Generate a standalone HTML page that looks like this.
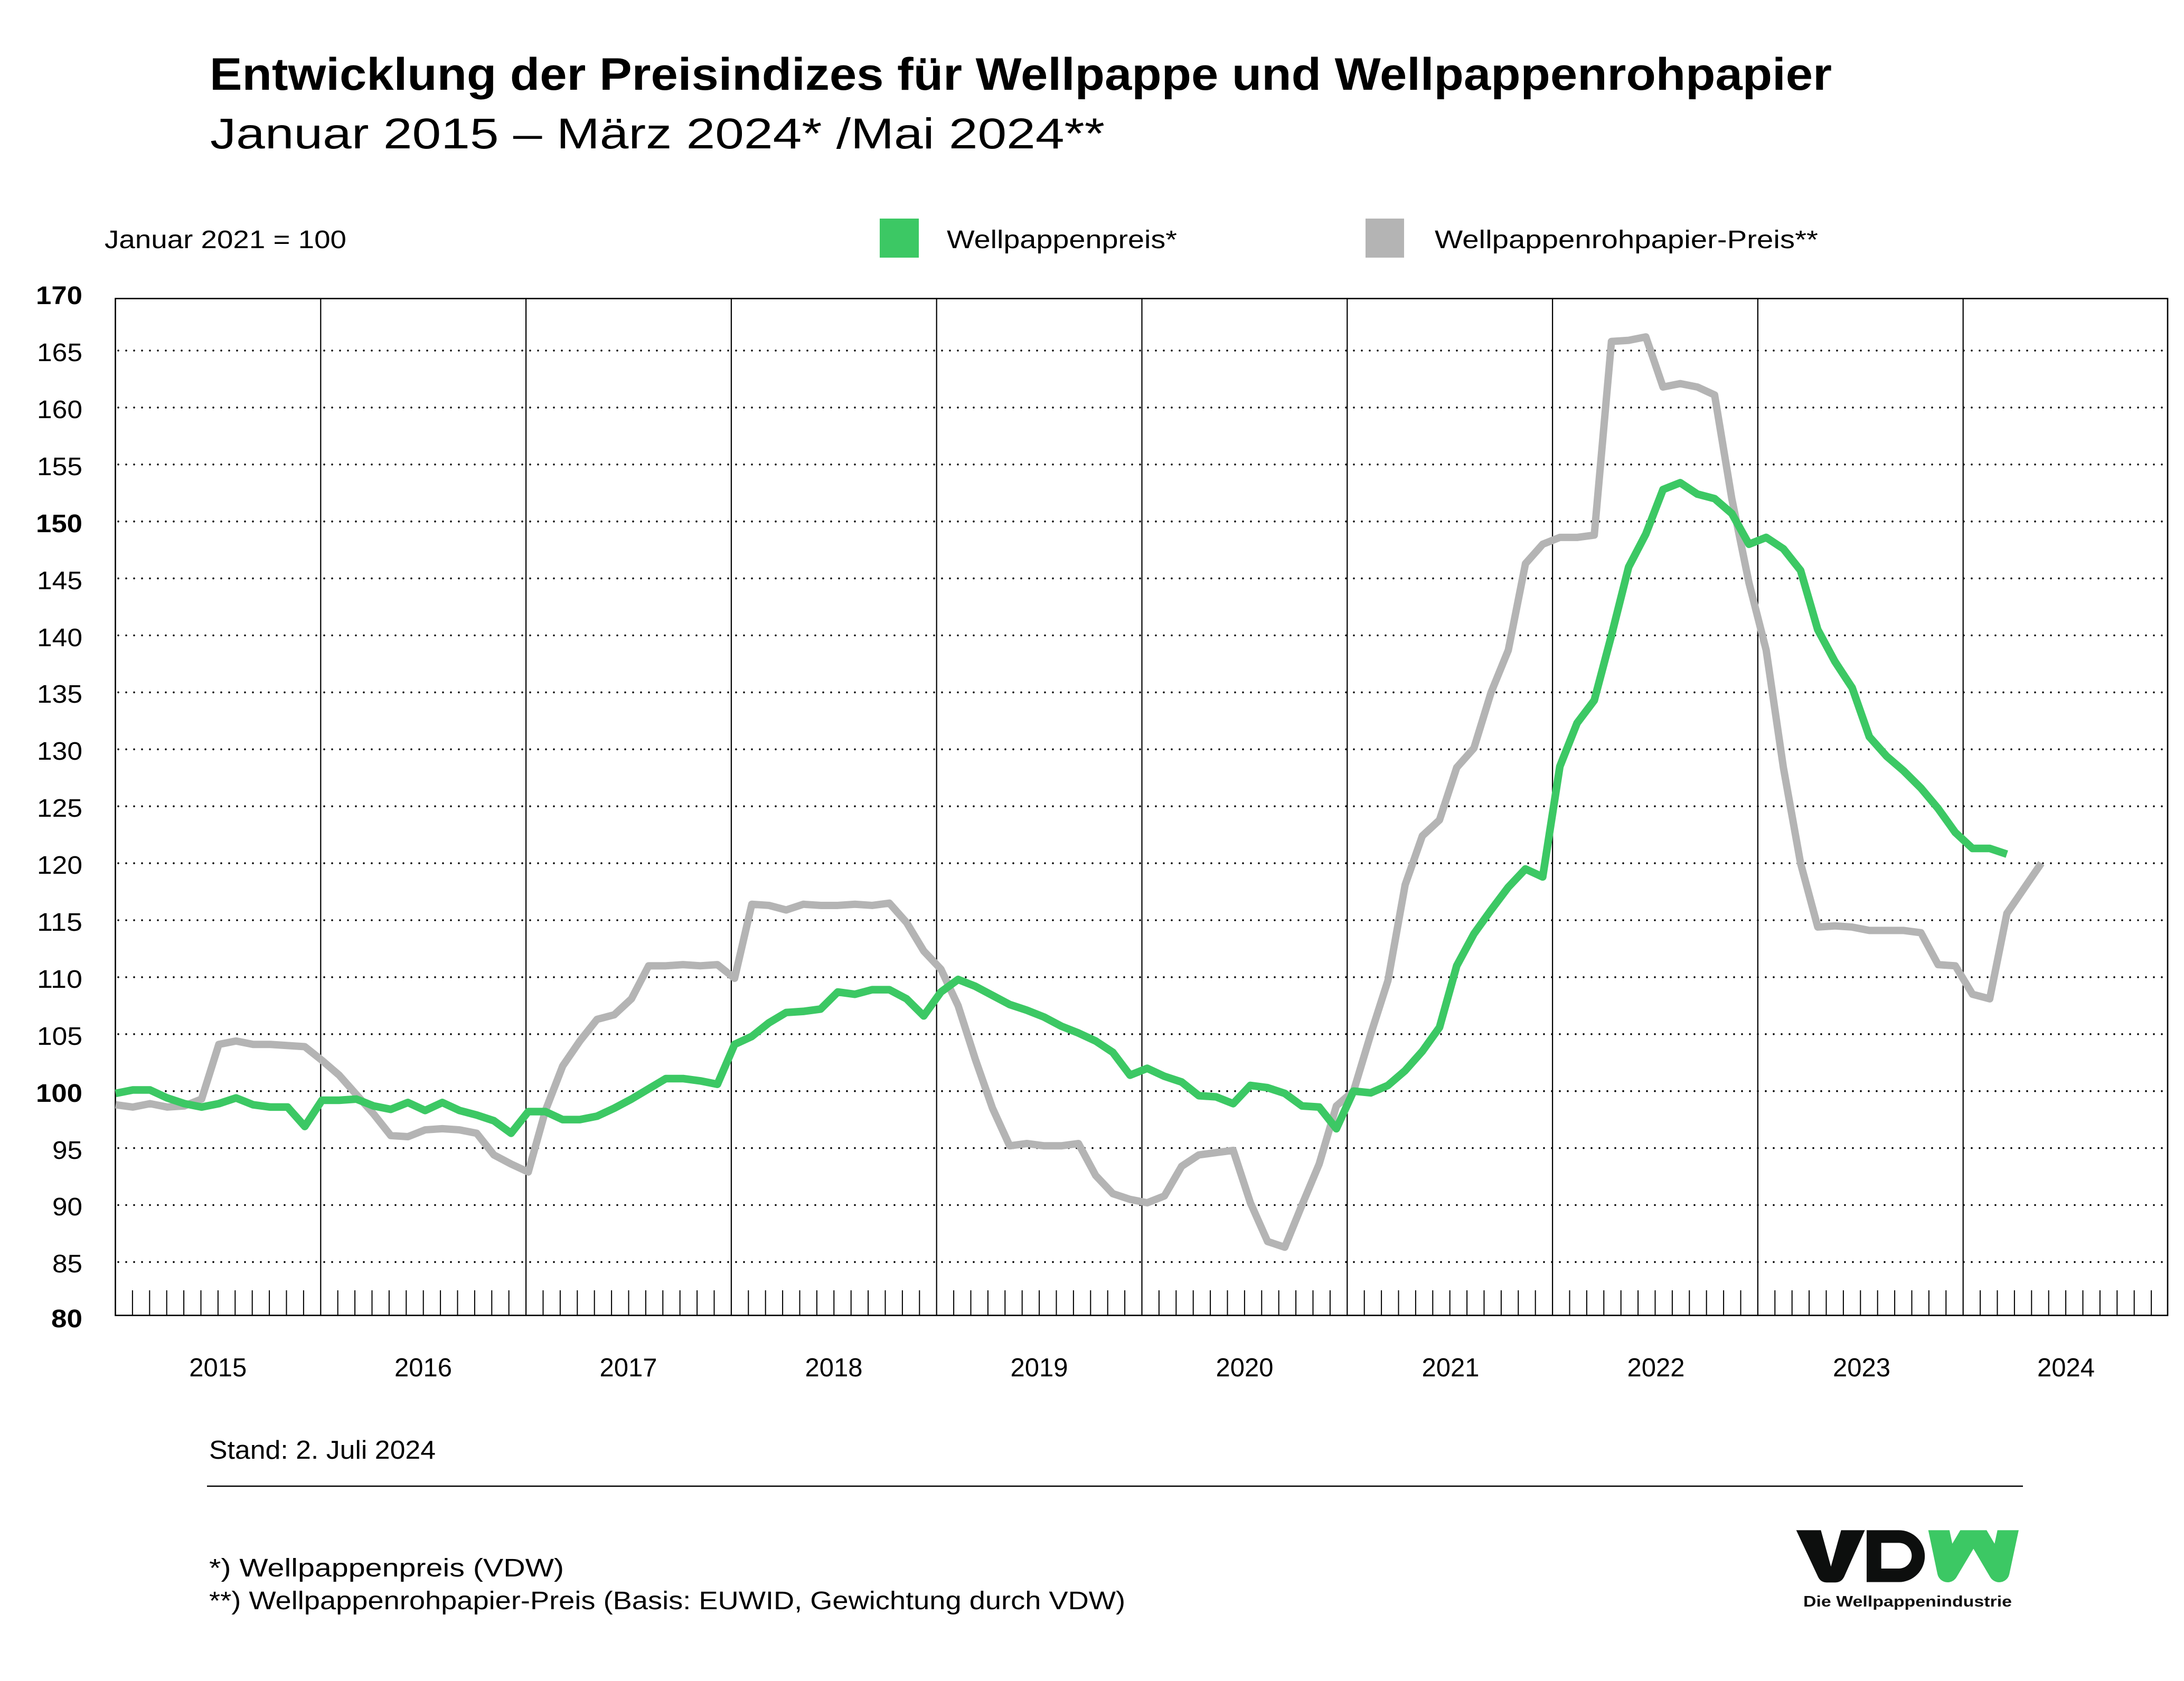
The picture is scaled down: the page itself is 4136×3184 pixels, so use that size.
<!DOCTYPE html>
<html>
<head>
<meta charset="utf-8">
<style>
html,body{margin:0;padding:0;background:#ffffff;}
svg{display:block;}
</style>
</head>
<body>
<svg xmlns="http://www.w3.org/2000/svg" width="4136" height="3184" viewBox="0 0 4136 3184" font-family="'Liberation Sans', Arial, sans-serif" fill="#000">
<rect x="0" y="0" width="4136" height="3184" fill="#ffffff"/>

<!-- Title -->
<text x="397" y="170" font-size="86" font-weight="bold" textLength="3072" lengthAdjust="spacingAndGlyphs">Entwicklung der Preisindizes für Wellpappe und Wellpappenrohpapier</text>
<text x="398" y="281" font-size="82" textLength="1694" lengthAdjust="spacingAndGlyphs">Januar 2015 – März 2024* /Mai 2024**</text>

<!-- Legend row -->
<text x="198" y="470" font-size="48" textLength="458" lengthAdjust="spacingAndGlyphs">Januar 2021 = 100</text>
<rect x="1666" y="414" width="74" height="74" fill="#3CC864"/>
<text x="1793" y="470" font-size="48" textLength="436" lengthAdjust="spacingAndGlyphs">Wellpappenpreis*</text>
<rect x="2586" y="414" width="73" height="74" fill="#B4B4B4"/>
<text x="2717" y="470" font-size="48" textLength="726" lengthAdjust="spacingAndGlyphs">Wellpappenrohpapier-Preis**</text>

<!-- Dotted horizontal gridlines -->
<g stroke="#000" stroke-width="3.6" stroke-linecap="round" stroke-dasharray="0 15" fill="none">
<line x1="224" x2="4102" y1="2390.4" y2="2390.4"/>
<line x1="224" x2="4102" y1="2282.5" y2="2282.5"/>
<line x1="224" x2="4102" y1="2174.6" y2="2174.6"/>
<line x1="224" x2="4102" y1="2066.7" y2="2066.7"/>
<line x1="224" x2="4102" y1="1958.8" y2="1958.8"/>
<line x1="224" x2="4102" y1="1850.9" y2="1850.9"/>
<line x1="224" x2="4102" y1="1743.0" y2="1743.0"/>
<line x1="224" x2="4102" y1="1635.1" y2="1635.1"/>
<line x1="224" x2="4102" y1="1527.2" y2="1527.2"/>
<line x1="224" x2="4102" y1="1419.3" y2="1419.3"/>
<line x1="224" x2="4102" y1="1311.4" y2="1311.4"/>
<line x1="224" x2="4102" y1="1203.5" y2="1203.5"/>
<line x1="224" x2="4102" y1="1095.6" y2="1095.6"/>
<line x1="224" x2="4102" y1="987.7" y2="987.7"/>
<line x1="224" x2="4102" y1="879.8" y2="879.8"/>
<line x1="224" x2="4102" y1="771.9" y2="771.9"/>
<line x1="224" x2="4102" y1="664.0" y2="664.0"/>
</g>

<!-- Year lines and monthly ticks (month units) -->
<g transform="translate(218.5,0) scale(32.4,1)" fill="none" stroke="#000">
<path vector-effect="non-scaling-stroke" stroke-width="2.2" d="M12 565.5V2491.5M24 565.5V2491.5M36 565.5V2491.5M48 565.5V2491.5M60 565.5V2491.5M72 565.5V2491.5M84 565.5V2491.5M96 565.5V2491.5M108 565.5V2491.5"/>
<path vector-effect="non-scaling-stroke" stroke-width="2" d="M1 2444V2491.5M2 2444V2491.5M3 2444V2491.5M4 2444V2491.5M5 2444V2491.5M6 2444V2491.5M7 2444V2491.5M8 2444V2491.5M9 2444V2491.5M10 2444V2491.5M11 2444V2491.5M13 2444V2491.5M14 2444V2491.5M15 2444V2491.5M16 2444V2491.5M17 2444V2491.5M18 2444V2491.5M19 2444V2491.5M20 2444V2491.5M21 2444V2491.5M22 2444V2491.5M23 2444V2491.5M25 2444V2491.5M26 2444V2491.5M27 2444V2491.5M28 2444V2491.5M29 2444V2491.5M30 2444V2491.5M31 2444V2491.5M32 2444V2491.5M33 2444V2491.5M34 2444V2491.5M35 2444V2491.5M37 2444V2491.5M38 2444V2491.5M39 2444V2491.5M40 2444V2491.5M41 2444V2491.5M42 2444V2491.5M43 2444V2491.5M44 2444V2491.5M45 2444V2491.5M46 2444V2491.5M47 2444V2491.5M49 2444V2491.5M50 2444V2491.5M51 2444V2491.5M52 2444V2491.5M53 2444V2491.5M54 2444V2491.5M55 2444V2491.5M56 2444V2491.5M57 2444V2491.5M58 2444V2491.5M59 2444V2491.5M61 2444V2491.5M62 2444V2491.5M63 2444V2491.5M64 2444V2491.5M65 2444V2491.5M66 2444V2491.5M67 2444V2491.5M68 2444V2491.5M69 2444V2491.5M70 2444V2491.5M71 2444V2491.5M73 2444V2491.5M74 2444V2491.5M75 2444V2491.5M76 2444V2491.5M77 2444V2491.5M78 2444V2491.5M79 2444V2491.5M80 2444V2491.5M81 2444V2491.5M82 2444V2491.5M83 2444V2491.5M85 2444V2491.5M86 2444V2491.5M87 2444V2491.5M88 2444V2491.5M89 2444V2491.5M90 2444V2491.5M91 2444V2491.5M92 2444V2491.5M93 2444V2491.5M94 2444V2491.5M95 2444V2491.5M97 2444V2491.5M98 2444V2491.5M99 2444V2491.5M100 2444V2491.5M101 2444V2491.5M102 2444V2491.5M103 2444V2491.5M104 2444V2491.5M105 2444V2491.5M106 2444V2491.5M107 2444V2491.5M109 2444V2491.5M110 2444V2491.5M111 2444V2491.5M112 2444V2491.5M113 2444V2491.5M114 2444V2491.5M115 2444V2491.5M116 2444V2491.5M117 2444V2491.5M118 2444V2491.5M119 2444V2491.5"/>
</g>

<!-- Plot border -->
<rect x="218.5" y="565.5" width="3886.5" height="1926" fill="none" stroke="#000" stroke-width="2.6"/>

<!-- Data series -->
<g transform="translate(219,4224.7) scale(32.56,-21.58)" fill="none" stroke-linejoin="round" stroke-linecap="butt">
<polyline vector-effect="non-scaling-stroke" stroke="#B4B4B4" stroke-width="14" points="0,98.8 1,98.6 2,98.9 3,98.6 4,98.7 5,99.3 6,104.1 7,104.4 8,104.1 9,104.1 10,104.0 11,103.9 12,102.7 13,101.4 14,99.7 15,98.0 16,96.1 17,96.0 18,96.6 19,96.7 20,96.6 21,96.3 22,94.4 23,93.6 24,92.9 25,98.3 26,102.2 27,104.4 28,106.3 29,106.7 30,108.1 31,111.0 32,111.0 33,111.1 34,111.0 35,111.1 36,109.9 37,116.4 38,116.3 39,115.9 40,116.4 41,116.3 42,116.3 43,116.4 44,116.3 45,116.5 46,114.8 47,112.3 48,110.7 49,107.5 50,102.8 51,98.5 52,95.2 53,95.4 54,95.2 55,95.2 56,95.4 57,92.6 58,91.0 59,90.5 60,90.2 61,90.8 62,93.4 63,94.4 64,94.6 65,94.8 66,90.2 67,86.8 68,86.3 69,90.0 70,93.6 71,98.7 72,100.0 73,105.0 74,109.7 75,118.1 76,122.4 77,123.8 78,128.4 79,130.1 80,135.0 81,138.7 82,146.3 83,148.0 84,148.6 85,148.6 86,148.8 87,165.8 88,165.9 89,166.2 90,161.8 91,162.1 92,161.8 93,161.1 94,152.0 95,144.6 96,138.7 97,128.4 98,120.0 99,114.4 100,114.5 101,114.4 102,114.1 103,114.1 104,114.1 105,113.9 106,111.1 107,111.0 108,108.5 109,108.1 110,115.6 111,117.8 112,120.0"/>
<polyline vector-effect="non-scaling-stroke" stroke="#3CC864" stroke-width="14.5" points="0,99.8 1,100.1 2,100.1 3,99.4 4,98.9 5,98.6 6,98.9 7,99.4 8,98.8 9,98.6 10,98.6 11,96.9 12,99.2 13,99.2 14,99.3 15,98.7 16,98.4 17,99.0 18,98.3 19,99.0 20,98.3 21,97.9 22,97.4 23,96.3 24,98.2 25,98.2 26,97.5 27,97.5 28,97.8 29,98.5 30,99.3 31,100.2 32,101.1 33,101.1 34,100.9 35,100.6 36,104.1 37,104.8 38,106.0 39,106.9 40,107.0 41,107.2 42,108.7 43,108.5 44,108.9 45,108.9 46,108.1 47,106.6 48,108.7 49,109.8 50,109.2 51,108.4 52,107.6 53,107.1 54,106.5 55,105.7 56,105.1 57,104.4 58,103.4 59,101.4 60,102.0 61,101.3 62,100.8 63,99.6 64,99.5 65,98.9 66,100.5 67,100.3 68,99.8 69,98.7 70,98.6 71,96.7 72,100.0 73,99.85 74,100.5 75,101.8 76,103.5 77,105.6 78,111.0 79,113.8 80,115.9 81,117.9 82,119.5 83,118.8 84,128.5 85,132.3 86,134.3 87,140.0 88,146.0 89,148.9 90,152.8 91,153.4 92,152.4 93,152.0 94,150.7 95,148.0 96,148.6 97,147.6 98,145.7 99,140.5 100,137.7 101,135.4 102,131.1 103,129.4 104,128.1 105,126.6 106,124.8 107,122.7 108,121.3 109,121.3 110,120.8"/>
</g>

<!-- Y axis labels -->
<g font-size="48" text-anchor="end">
<text x="156" y="576" font-weight="bold" textLength="88" lengthAdjust="spacingAndGlyphs">170</text>
<text x="156" y="684" textLength="86" lengthAdjust="spacingAndGlyphs">165</text>
<text x="156" y="792" textLength="86" lengthAdjust="spacingAndGlyphs">160</text>
<text x="156" y="900" textLength="86" lengthAdjust="spacingAndGlyphs">155</text>
<text x="156" y="1008" font-weight="bold" textLength="88" lengthAdjust="spacingAndGlyphs">150</text>
<text x="156" y="1116" textLength="86" lengthAdjust="spacingAndGlyphs">145</text>
<text x="156" y="1224" textLength="86" lengthAdjust="spacingAndGlyphs">140</text>
<text x="156" y="1331" textLength="86" lengthAdjust="spacingAndGlyphs">135</text>
<text x="156" y="1439" textLength="86" lengthAdjust="spacingAndGlyphs">130</text>
<text x="156" y="1547" textLength="86" lengthAdjust="spacingAndGlyphs">125</text>
<text x="156" y="1655" textLength="86" lengthAdjust="spacingAndGlyphs">120</text>
<text x="156" y="1763" textLength="86" lengthAdjust="spacingAndGlyphs">115</text>
<text x="156" y="1871" textLength="86" lengthAdjust="spacingAndGlyphs">110</text>
<text x="156" y="1979" textLength="86" lengthAdjust="spacingAndGlyphs">105</text>
<text x="156" y="2087" font-weight="bold" textLength="88" lengthAdjust="spacingAndGlyphs">100</text>
<text x="156" y="2195" textLength="57" lengthAdjust="spacingAndGlyphs">95</text>
<text x="156" y="2302" textLength="57" lengthAdjust="spacingAndGlyphs">90</text>
<text x="156" y="2410" textLength="57" lengthAdjust="spacingAndGlyphs">85</text>
<text x="156" y="2514" font-weight="bold" textLength="59" lengthAdjust="spacingAndGlyphs">80</text>
</g>

<!-- X axis year labels -->
<g font-size="49" text-anchor="middle">
<text x="412.8" y="2607">2015</text>
<text x="801.5" y="2607">2016</text>
<text x="1190" y="2607">2017</text>
<text x="1579" y="2607">2018</text>
<text x="1968" y="2607">2019</text>
<text x="2357" y="2607">2020</text>
<text x="2747" y="2607">2021</text>
<text x="3136" y="2607">2022</text>
<text x="3525.5" y="2607">2023</text>
<text x="3912.5" y="2607">2024</text>
</g>

<!-- Footer -->
<text x="396" y="2763" font-size="49" textLength="429" lengthAdjust="spacingAndGlyphs">Stand: 2. Juli 2024</text>
<line x1="392" x2="3831" y1="2815" y2="2815" stroke="#000" stroke-width="2.6"/>
<text x="396" y="2986" font-size="48" textLength="672" lengthAdjust="spacingAndGlyphs">*) Wellpappenpreis (VDW)</text>
<text x="396" y="3048" font-size="48" textLength="1735" lengthAdjust="spacingAndGlyphs">**) Wellpappenrohpapier-Preis (Basis: EUWID, Gewichtung durch VDW)</text>

<!-- VDW logo -->
<defs>
<clipPath id="wclip"><rect x="780" y="55" width="600" height="320"/></clipPath>
</defs>
<g transform="translate(3380,2880) scale(0.33333)">
<path fill="#0D0F0E" d="M65,55 H205 L262,262 L320,55 H455 L338,318 Q322,352 287,352 H238 Q203,352 188,318 Z"/>
<path fill="#0D0F0E" fill-rule="evenodd" d="M465,55 H648 A147.5,147.5 0 0 1 648,350 H465 Z M548,127 H648 A73,73 0 0 1 648,273 H548 Z"/>
<polyline clip-path="url(#wclip)" fill="none" stroke="#3CC864" stroke-width="118" stroke-linejoin="round" points="868,20 925,292 1072,45 1218,292 1276,20"/>
</g>
<text x="3415" y="3043" font-size="29" font-weight="bold" fill="#111" textLength="395" lengthAdjust="spacingAndGlyphs">Die Wellpappenindustrie</text>
</svg>
</body>
</html>
